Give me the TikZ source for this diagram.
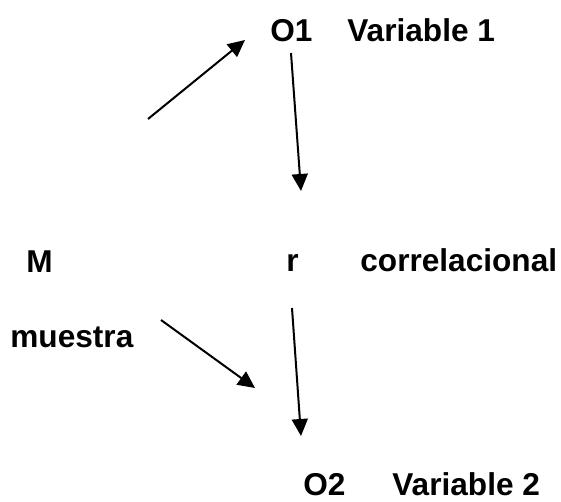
\documentclass[tikz,border=0pt]{standalone}
\usepackage{fontspec}
\setmainfont{Liberation Sans}
\usetikzlibrary{arrows.meta}
\tikzset{lbl/.style={anchor=base west, inner sep=0pt, font=\bfseries\fontsize{15.8}{18}\selectfont}, flecha/.style={line width=1pt, -{Triangle[length=8.5pt, width=8pt]}}}

\begin{document}
\begin{tikzpicture}[x=0.5pt, y=-0.5pt]
		\useasboundingbox (0, 0) rectangle (561, 502);
		\node[lbl](o1) at (270, 42){O1};
		\node[lbl](var1) at (347, 42){Variable 1};
		\node[lbl](m) at (26, 272){M};
		\node[lbl](r) at (286, 271){r};
		\node[lbl](corr) at (360, 271){correlacional};
		\node[lbl](muestra) at (10, 347){muestra};
		\node[lbl](o2) at (303, 495){O2};
		\node[lbl](var2) at (392, 495){Variable 2};
		\coordinate (a1) at (148, 119);
		\coordinate (b1) at (245, 40);
		\coordinate (a2) at (291, 53);
		\coordinate (b2) at (301, 191);
		\coordinate (a3) at (161, 320);
		\coordinate (b3) at (255, 388);
		\coordinate (a4) at (292, 308);
		\coordinate (b4) at (301, 436);
		\draw[flecha](a1)--(b1);
		\draw[flecha](a2)--(b2);
		\draw[flecha](a3)--(b3);
		\draw[flecha](a4)--(b4);
	\end{tikzpicture}
\end{document}
